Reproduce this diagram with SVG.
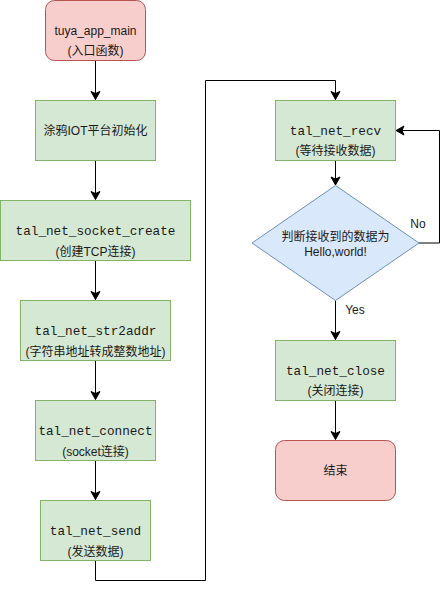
<svg xmlns="http://www.w3.org/2000/svg" width="448" height="589" viewBox="0 0 448 589">
<style>
.red{fill:#f8cecc;stroke:#b85450;stroke-width:1}
.green{fill:#d5e8d4;stroke:#82b366;stroke-width:1}
.blue{fill:#dae8fc;stroke:#6c8ebf;stroke-width:1}
.t{font-family:"Liberation Sans","Noto Sans CJK SC",sans-serif;font-size:12px;fill:#1a1a1a;text-anchor:middle}
.m{font-family:"Liberation Mono","DejaVu Sans Mono",monospace;font-size:12.7px;fill:#1a1a1a;text-anchor:middle}
.c{fill:none;stroke:#000;stroke-width:1;marker-end:url(#arr)}
</style>
<defs>
<marker id="arr" markerUnits="userSpaceOnUse" markerWidth="12" markerHeight="12" viewBox="-10 -6 12 12" refX="0" refY="0" orient="auto">
<path d="M-8,-4.5 L0,0 L-8,4.5 L-6,0 z" fill="#000" stroke="#000" stroke-width="1"/>
</marker>
</defs>
<g id="connectors">
<path class="c" d="M95.5,60.5 L95.5,99.5"/>
<path class="c" d="M95.5,160.5 L95.5,199.5"/>
<path class="c" d="M95.5,260.5 L95.5,299.5"/>
<path class="c" d="M95.5,360.5 L95.5,399.5"/>
<path class="c" d="M95.5,460.5 L95.5,499.5"/>
<path class="c" d="M95.5,560.5 L95.5,580.5 L205.5,580.5 L205.5,80.5 L335.5,80.5 L335.5,99.5"/>
<path class="c" d="M335.5,160.5 L335.5,185"/>
<path class="c" d="M419,243 L439.5,243 L439.5,130.5 L396,130.5"/>
<path class="c" d="M335.5,300.5 L335.5,339.5"/>
<path class="c" d="M335.5,400.5 L335.5,439.5"/>
<text class="t" x="418" y="228">No</text>
<text class="t" x="355" y="314">Yes</text>
</g>
<g id="node-main">
<rect class="red" x="45.5" y="0.5" width="100" height="60" rx="9"/>
<text class="t" x="95.5" y="35">tuya_app_main</text>
<text class="t" x="95.5" y="55">(入口函数)</text>
</g>
<g id="node-init">
<rect class="green" x="35.5" y="100.5" width="120" height="60"/>
<text class="t" x="95.5" y="135">涂鸦IOT平台初始化</text>
</g>
<g id="node-create">
<rect class="green" x="0.5" y="200.5" width="190" height="60"/>
<text class="m" x="95.5" y="235">tal_net_socket_create</text>
<text class="t" x="95.5" y="256">(创建TCP连接)</text>
</g>
<g id="node-str2addr">
<rect class="green" x="20.5" y="300.5" width="150" height="60"/>
<text class="m" x="95.5" y="335">tal_net_str2addr</text>
<text class="t" x="95.5" y="356">(字符串地址转成整数地址)</text>
</g>
<g id="node-connect">
<rect class="green" x="35.5" y="400.5" width="120" height="60"/>
<text class="m" x="95.5" y="435">tal_net_connect</text>
<text class="t" x="95.5" y="456">(socket连接)</text>
</g>
<g id="node-send">
<rect class="green" x="40.5" y="500.5" width="110" height="60"/>
<text class="m" x="95.5" y="535">tal_net_send</text>
<text class="t" x="95.5" y="556">(发送数据)</text>
</g>
<g id="node-recv">
<rect class="green" x="275.5" y="100.5" width="120" height="60"/>
<text class="m" x="335.5" y="135">tal_net_recv</text>
<text class="t" x="335.5" y="155">(等待接收数据)</text>
</g>
<g id="node-decision">
<polygon class="blue" points="335.5,185.5 419,243 335.5,300.5 252,243"/>
<text class="t" x="335.5" y="241">判断接收到的数据为</text>
<text class="t" x="335.5" y="256">Hello,world!</text>
</g>
<g id="node-close">
<rect class="green" x="275.5" y="340.5" width="120" height="60"/>
<text class="m" x="335.5" y="375">tal_net_close</text>
<text class="t" x="335.5" y="395">(关闭连接)</text>
</g>
<g id="node-end">
<rect class="red" x="275.5" y="440.5" width="120" height="60" rx="9"/>
<text class="t" x="335.5" y="475">结束</text>
</g>
</svg>
